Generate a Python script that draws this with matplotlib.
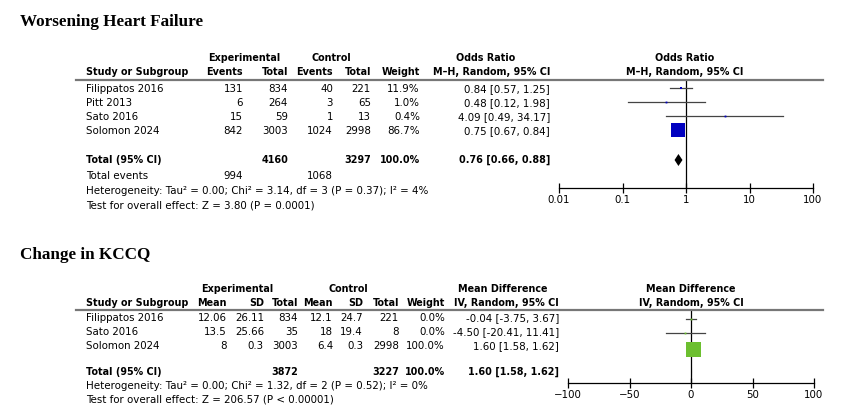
import numpy as np
import matplotlib
matplotlib.use("Agg")
from matplotlib import pyplot as plt

# worsening heart failure (odds ratio)
whf_studies = ["Filippatos 2016", "Pitt 2013", "Sato 2016", "Solomon 2024"]
whf_exp_events = [131, 6, 15, 842]
whf_exp_total = [834, 264, 59, 3003]
whf_ctl_events = [40, 3, 1, 1024]
whf_ctl_total = [221, 65, 13, 2998]
whf_weight = [11.9, 1.0, 0.4, 86.7]
whf_or = [0.84, 0.48, 4.09, 0.75]
whf_lo = [0.57, 0.12, 0.49, 0.67]
whf_hi = [1.25, 1.98, 34.17, 0.84]
whf_total = (4160, 3297, 0.76, 0.66, 0.88)
whf_events = (994, 1068)
whf_het = "Heterogeneity: Tau² = 0.00; Chi² = 3.14, df = 3 (P = 0.37); I² = 4%"
whf_test = "Test for overall effect: Z = 3.80 (P = 0.0001)"
whf_ticks = [0.01, 0.1, 1, 10, 100]
whf_ticklabels = ["0.01", "0.1", "1", "10", "100"]

# change in KCCQ (mean difference)
kc_studies = ["Filippatos 2016", "Sato 2016", "Solomon 2024"]
kc_exp_mean = ["12.06", "13.5", "8"]
kc_exp_sd = ["26.11", "25.66", "0.3"]
kc_exp_n = [834, 35, 3003]
kc_ctl_mean = ["12.1", "18", "6.4"]
kc_ctl_sd = ["24.7", "19.4", "0.3"]
kc_ctl_n = [221, 8, 2998]
kc_weight = [0.0, 0.0, 100.0]
kc_md = [-0.04, -4.50, 1.60]
kc_lo = [-3.75, -20.41, 1.58]
kc_hi = [3.67, 11.41, 1.62]
kc_total = (3872, 3227, 1.60, 1.58, 1.62)
kc_het = "Heterogeneity: Tau² = 0.00; Chi² = 1.32, df = 2 (P = 0.52); I² = 0%"
kc_test = "Test for overall effect: Z = 206.57 (P < 0.00001)"
kc_ticks = [-100, -50, 0, 50, 100]
kc_ticklabels = ["\u2212100", "\u221250", "0", "50", "100"]

W, H = 851, 418
fig = plt.figure(figsize=(W / 100, H / 100), dpi=100)

FS = 7.4      # regular table text
FSB = 6.9     # bold header text
SANS = "DejaVu Sans"
SERIF = "Liberation Serif"


def t(x, y, s, ha="left", bold=False, size=None, family=SANS):
    if size is None:
        size = FSB if bold else FS
    fig.text(x / W, 1 - y / H, s, ha=ha, va="center", fontsize=size,
             fontweight="bold" if bold else "normal", family=family)


def hline(x0, x1, y):
    fig.add_artist(plt.Line2D([x0 / W, x1 / W], [1 - y / H, 1 - y / H],
                              color="#777777", lw=1.6))


def forest_axes(x0, x1, ytop, ybot):
    ax = fig.add_axes([x0 / W, 1 - ybot / H, (x1 - x0) / W, (ybot - ytop) / H])
    ax.set_ylim(ybot, ytop)
    for s in ["top", "left", "right"]:
        ax.spines[s].set_visible(False)
    ax.spines["bottom"].set_linewidth(0.9)
    ax.set_yticks([])
    ax.patch.set_alpha(0)
    ax.tick_params(axis="x", direction="inout", length=7, width=0.9,
                   labelsize=FS, pad=1.5)
    ax.minorticks_off()
    return ax


# ---------------- Worsening Heart Failure ----------------
t(20, 22, "Worsening Heart Failure", bold=True, size=12.3, family=SERIF)

t(244, 58, "Experimental", ha="center", bold=True)
t(331, 58, "Control", ha="center", bold=True)
t(486, 58, "Odds Ratio", ha="center", bold=True)
t(685, 58, "Odds Ratio", ha="center", bold=True)

t(86, 72, "Study or Subgroup", bold=True)
t(243, 72, "Events", ha="right", bold=True)
t(288, 72, "Total", ha="right", bold=True)
t(333, 72, "Events", ha="right", bold=True)
t(371, 72, "Total", ha="right", bold=True)
t(420, 72, "Weight", ha="right", bold=True)
t(550, 72, "M\u2013H, Random, 95% CI", ha="right", bold=True)
t(685, 72, "M\u2013H, Random, 95% CI", ha="center", bold=True)
hline(76, 823, 80)

row_y = [89, 103, 117, 131]
for i, y in enumerate(row_y):
    t(86, y, whf_studies[i])
    t(243, y, str(whf_exp_events[i]), ha="right")
    t(288, y, str(whf_exp_total[i]), ha="right")
    t(333, y, str(whf_ctl_events[i]), ha="right")
    t(371, y, str(whf_ctl_total[i]), ha="right")
    t(420, y, "%.1f%%" % whf_weight[i], ha="right")
    t(550, y, "%.2f [%.2f, %.2f]" % (whf_or[i], whf_lo[i], whf_hi[i]), ha="right")

tot_y = 160
t(86, tot_y, "Total (95% CI)", bold=True)
t(288, tot_y, str(whf_total[0]), ha="right", bold=True)
t(371, tot_y, str(whf_total[1]), ha="right", bold=True)
t(420, tot_y, "100.0%", ha="right", bold=True)
t(550, tot_y, "%.2f [%.2f, %.2f]" % whf_total[2:], ha="right", bold=True)
t(86, 176, "Total events")
t(243, 176, str(whf_events[0]), ha="right")
t(333, 176, str(whf_events[1]), ha="right")
t(86, 191, whf_het)
t(86, 206, whf_test)

ax1 = forest_axes(559, 813, 80, 188)
ax1.set_xscale("log")
ax1.set_xlim(0.01, 100)
ax1.set_xticks(whf_ticks)
ax1.set_xticklabels(whf_ticklabels)
ax1.minorticks_off()
ax1.axvline(1, color="black", lw=0.9)
for i, y in enumerate(row_y):
    y = y - 1
    ax1.plot([whf_lo[i], whf_hi[i]], [y, y], color="#444444", lw=0.9)
    side = max(1.8, 15 * whf_weight[i] / 86.7 * 1.2) if whf_weight[i] < 50 else 14.5
    ax1.plot(whf_or[i], y, "s", color="#0000C0", ms=side * 0.72, mew=0)
est, lo, hi = whf_total[2:]
ax1.fill([lo, est, hi, est], [tot_y, tot_y - 6, tot_y, tot_y + 6], color="black", lw=0)

# ---------------- Change in KCCQ ----------------
t(20, 255, "Change in KCCQ", bold=True, size=12.3, family=SERIF)

t(237, 289, "Experimental", ha="center", bold=True)
t(348, 289, "Control", ha="center", bold=True)
t(503, 289, "Mean Difference", ha="center", bold=True)
t(691, 289, "Mean Difference", ha="center", bold=True)

t(86, 303, "Study or Subgroup", bold=True)
t(227, 303, "Mean", ha="right", bold=True)
t(264, 303, "SD", ha="right", bold=True)
t(298, 303, "Total", ha="right", bold=True)
t(333, 303, "Mean", ha="right", bold=True)
t(363, 303, "SD", ha="right", bold=True)
t(399, 303, "Total", ha="right", bold=True)
t(445, 303, "Weight", ha="right", bold=True)
t(559, 303, "IV, Random, 95% CI", ha="right", bold=True)
t(691, 303, "IV, Random, 95% CI", ha="center", bold=True)
hline(76, 823, 310)

row_y2 = [318, 332, 346]
for i, y in enumerate(row_y2):
    t(86, y, kc_studies[i])
    t(227, y, kc_exp_mean[i], ha="right")
    t(264, y, kc_exp_sd[i], ha="right")
    t(298, y, str(kc_exp_n[i]), ha="right")
    t(333, y, kc_ctl_mean[i], ha="right")
    t(363, y, kc_ctl_sd[i], ha="right")
    t(399, y, str(kc_ctl_n[i]), ha="right")
    t(445, y, "%.1f%%" % kc_weight[i], ha="right")
    t(559, y, "%.2f [%.2f, %.2f]" % (kc_md[i], kc_lo[i], kc_hi[i]), ha="right")

tot_y2 = 372
t(86, tot_y2, "Total (95% CI)", bold=True)
t(298, tot_y2, str(kc_total[0]), ha="right", bold=True)
t(399, tot_y2, str(kc_total[1]), ha="right", bold=True)
t(445, tot_y2, "100.0%", ha="right", bold=True)
t(559, tot_y2, "%.2f [%.2f, %.2f]" % kc_total[2:], ha="right", bold=True)
t(86, 386, kc_het)
t(86, 399, kc_test)

ax2 = forest_axes(568, 814, 310, 383)
ax2.set_xlim(-100, 100)
ax2.set_xticks(kc_ticks)
ax2.set_xticklabels(kc_ticklabels)
ax2.axvline(0, color="black", lw=0.9)
for i, y in enumerate(row_y2):
    y = y + 1
    ax2.plot([kc_lo[i], kc_hi[i]], [y, y], color="#444444", lw=0.9)
    side = 15 if kc_weight[i] > 50 else 1.8
    ax2.plot(kc_md[i], y + (2 if kc_weight[i] > 50 else 0), "s", color="#6CBF2F",
             ms=side * 0.72, mew=0)
est, lo, hi = kc_total[2:]
ax2.fill([lo, est, hi, est], [tot_y2, tot_y2 - 6, tot_y2, tot_y2 + 6], color="black", lw=0)

fig.savefig("out.png", dpi=100)
